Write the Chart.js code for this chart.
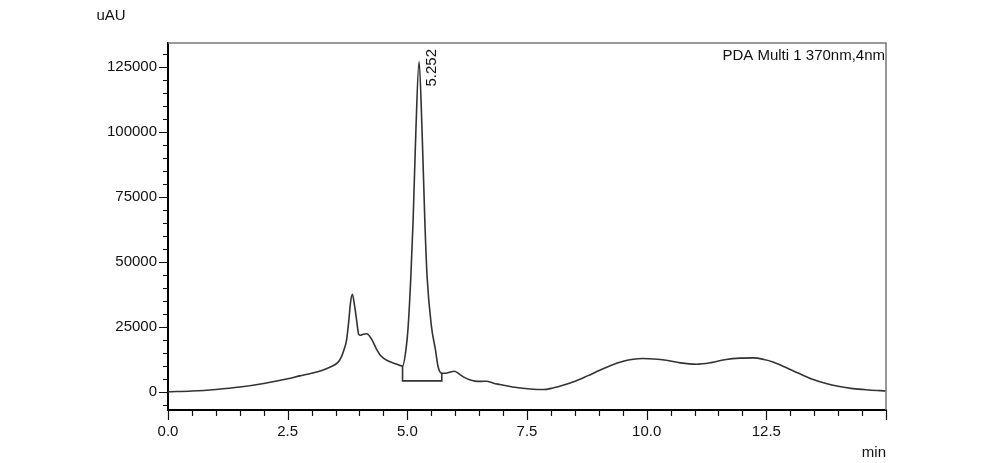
<!DOCTYPE html>
<html>
<head>
<meta charset="utf-8">
<script src="https://cdn.jsdelivr.net/npm/chart.js@4.4.1/dist/chart.umd.min.js"></script>
<style>
html,body{margin:0;padding:0;background:#fff;}
canvas{display:block;}
</style>
</head>
<body>
<canvas id="c" width="983" height="463"></canvas>
<script>
// Retention time (min)
const times = [0.0,0.5,1.0,1.5,2.0,2.5,2.75,3.0,3.2,3.4,3.55,3.62,3.68,3.73,3.78,3.81,3.85,3.90,3.94,3.98,4.01,4.08,4.15,4.25,4.35,4.45,4.57,4.75,4.90,4.97,5.017,5.073,5.121,5.177,5.245,5.309,5.365,5.413,5.505,5.589,5.64,5.72,5.80,5.90,5.98,6.07,6.17,6.30,6.41,6.55,6.65,6.80,6.93,7.20,7.63,7.84,8.04,8.25,8.46,8.75,9.02,9.25,9.51,9.72,9.92,10.15,10.41,10.70,11.04,11.35,11.66,11.95,12.22,12.45,12.64,12.90,13.19,13.45,13.75,14.00,14.31,14.65,15.0];
// Absorbance (uAU)
const signal = [200,500,1100,2000,3400,5200,6300,7300,8300,9800,11500,13500,16500,20000,28000,34000,37600,33000,27700,22500,21900,22300,22500,20500,16800,13900,12300,11000,10100,16150,25120,44350,66150,99600,127000,99600,66150,44350,25120,16150,10000,7300,7300,7800,8100,7200,5900,4800,4300,4200,4250,3500,3000,2000,1150,1050,1650,2700,3960,6200,8460,10300,11900,12700,12960,12800,12300,11300,10770,11400,12580,13100,13200,12600,11650,9600,7190,5100,3350,2300,1420,900,500];
// Integration baseline box of the labelled peak
const boxTimes = [4.90, 4.90, 5.72, 5.72];
const boxValues = [10100, 4400, 4400, 7300];
// Peak annotation
const peakTimes = [5.252];
const peakLabels = ['5.252'];
// Axis ticks
const xTickValues = [0, 2.5, 5.0, 7.5, 10.0, 12.5];
const yTickValues = [0, 25000, 50000, 75000, 100000, 125000];
const xRange = [0, 15];
const yRange = [-6800, 134100];
const channelLabel = 'PDA Multi 1 370nm,4nm';
const yUnit = 'uAU';
const xUnit = 'min';

const FONT = '"Liberation Sans", Arial, sans-serif';

const decor = {
  id: 'decor',
  afterDraw(chart) {
    const {ctx, chartArea: a, scales: {x, y}} = chart;
    ctx.save();
    // top and right frame
    ctx.strokeStyle = '#777';
    ctx.lineWidth = 1.5;
    ctx.beginPath();
    ctx.moveTo(a.left, a.top);
    ctx.lineTo(a.right, a.top);
    ctx.lineTo(a.right, a.bottom);
    ctx.stroke();
    // x ticks
    ctx.strokeStyle = '#111';
    ctx.lineWidth = 1.2;
    ctx.beginPath();
    for (let i = 0; i <= 30; i++) {
      const v = i * 0.5;
      const px = Math.round(x.getPixelForValue(v)) + 0.5;
      const major = Math.abs(v / 2.5 - Math.round(v / 2.5)) < 1e-6;
      ctx.moveTo(px, a.bottom);
      ctx.lineTo(px, a.bottom + (major ? 10 : 6));
    }
    // y ticks
    for (let v = -5000; v <= yRange[1]; v += 5000) {
      const py = Math.round(y.getPixelForValue(v)) + 0.5;
      const major = v % 25000 === 0;
      ctx.moveTo(a.left, py);
      ctx.lineTo(a.left - (major ? 9 : 5), py);
    }
    ctx.stroke();
    // texts
    ctx.fillStyle = '#111';
    ctx.font = '15px ' + FONT;
    ctx.textBaseline = 'alphabetic';
    ctx.textAlign = 'right';
    ctx.fillText(channelLabel, a.right - 1, a.top + 17);
    ctx.fillText(xUnit, a.right, 457);
    ctx.textAlign = 'center';
    ctx.fillText(yUnit, a.left - 57, 20);
    // peak labels
    peakTimes.forEach((t, i) => {
      let best = 0;
      times.forEach((tt, j) => { if (Math.abs(tt - t) < 0.2 && signal[j] > best) { best = signal[j]; } });
      const px = x.getPixelForValue(t);
      const py = y.getPixelForValue(best);
      ctx.save();
      ctx.translate(px + 16.5, py + 25);
      ctx.rotate(-Math.PI / 2);
      ctx.textAlign = 'left';
      ctx.fillText(peakLabels[i], 0, 0);
      ctx.restore();
    });
    ctx.restore();
  }
};

new Chart(document.getElementById('c'), {
  type: 'line',
  data: {
    datasets: [
      {
        data: times.map((t, i) => ({x: t, y: signal[i]})),
        borderColor: '#333',
        borderWidth: 1.6,
        pointRadius: 0,
        cubicInterpolationMode: 'monotone',
        fill: false
      },
      {
        data: boxTimes.map((t, i) => ({x: t, y: boxValues[i]})),
        borderColor: '#333',
        borderWidth: 1.6,
        pointRadius: 0,
        tension: 0,
        fill: false
      }
    ]
  },
  options: {
    responsive: false,
    animation: false,
    events: [],
    layout: {padding: {left: 0, right: 97, top: 43, bottom: 0}},
    plugins: {legend: {display: false}, title: {display: false}, tooltip: {enabled: false}},
    scales: {
      x: {
        type: 'linear',
        min: xRange[0], max: xRange[1],
        grid: {display: false, drawTicks: false},
        border: {display: true, color: '#000', width: 2},
        afterBuildTicks: s => { s.ticks = xTickValues.map(v => ({value: v})); },
        afterFit: s => { s.height = 53; },
        ticks: {
          padding: 13,
          color: '#111',
          font: {family: FONT, size: 15},
          maxRotation: 0,
          autoSkip: false,
          callback: v => Number(v).toFixed(1)
        }
      },
      y: {
        type: 'linear',
        min: yRange[0], max: yRange[1],
        grid: {display: false, drawTicks: false},
        border: {display: true, color: '#000', width: 2},
        afterBuildTicks: s => { s.ticks = yTickValues.map(v => ({value: v})); },
        afterFit: s => { s.width = 168; },
        ticks: {
          padding: 11,
          color: '#111',
          font: {family: FONT, size: 15},
          autoSkip: false,
          callback: v => String(v)
        }
      }
    }
  },
  plugins: [decor]
});
</script>
</body>
</html>
